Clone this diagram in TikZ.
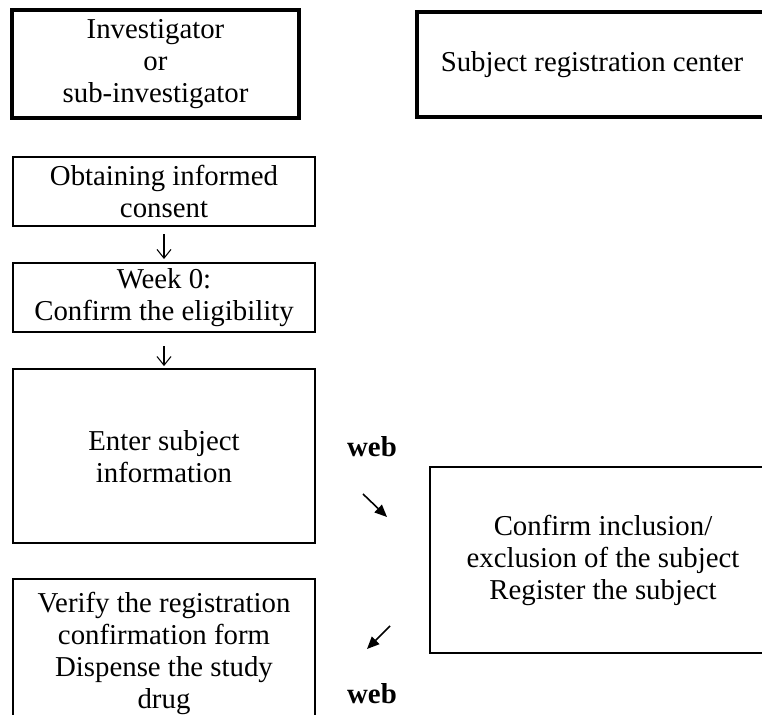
\documentclass[tikz,border=0pt]{standalone}
\usepackage{fontspec}
\setmainfont{Liberation Serif}
\usetikzlibrary{arrows.meta,positioning}
\newcommand{\boxfont}{\fontsize{16.4}{18.2}\selectfont}

\tikzset{
  box/.style={draw,line width=1.2pt,align=center,inner sep=0pt,font=\boxfont},
  rolebox/.style={box,line width=2.3pt},
  webtag/.style={font=\boxfont\bfseries},
  flow/.style={line width=0.6pt,-{Straight Barb[length=5pt,width=8pt]}},
  webflow/.style={line width=0.9pt,-{Triangle[length=7pt,width=6pt]}}
}

\begin{document}
\begin{tikzpicture}[x=0.02cm,y=-0.02cm]
\useasboundingbox (0,0) rectangle (762,715);
\clip (0,0) rectangle (762,715);
% roles
\node[rolebox,minimum width=5.74cm,minimum height=2.16cm] (investigator) at (155.5,64)
  {Investigator\\or\\sub-investigator};
\node[rolebox,minimum width=7cm,minimum height=2.1cm] (center) at (592,64.5)
  {Subject registration center};
% investigator side
\node[box,minimum width=6.04cm,minimum height=1.38cm] (consent) at (164,191.5)
  {Obtaining informed\\consent};
\node[box,minimum width=6.04cm,minimum height=1.38cm,below=0.7cm of consent] (eligibility)
  {Week 0:\\Confirm the eligibility};
\node[box,minimum width=6.04cm,minimum height=3.48cm,below=0.7cm of eligibility] (entry)
  {Enter subject\\information};
\node[box,minimum width=6.04cm,minimum height=2.96cm,below=0.68cm of entry] (dispense)
  {Verify the registration\\confirmation form\\Dispense the study\\drug};
% registration center side
\node[box,minimum width=6.92cm,minimum height=3.72cm] (register) at (603,560)
  {Confirm inclusion/\\exclusion of the subject\\Register the subject};
\node[webtag] (webin) at (372,447) {web};
\node[webtag] (webout) at (372,694) {web};
\coordinate (inA) at (363,494);
\coordinate (inB) at (387,517);
\coordinate (outA) at (390,626);
\coordinate (outB) at (367,649);

\draw[flow,shorten <=0.14cm,shorten >=0.06cm] (consent) -- (eligibility);
\draw[flow,shorten <=0.26cm,shorten >=0.04cm] (eligibility) -- (entry);
\draw[webflow] (inA) -- (inB);
\draw[webflow] (outA) -- (outB);
\end{tikzpicture}
\end{document}
